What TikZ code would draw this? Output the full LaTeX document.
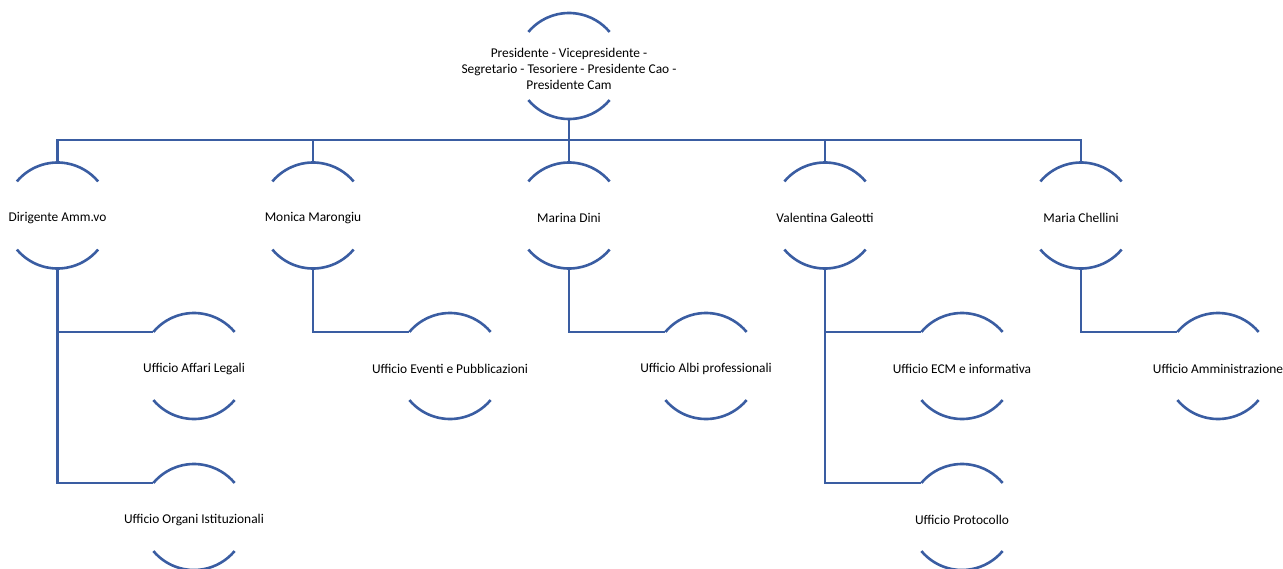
\documentclass[tikz,border=0pt]{standalone}
\usepackage{fontspec}
\setmainfont{Carlito}
\usetikzlibrary{positioning}
\definecolor{linea}{RGB}{58,93,162}
\tikzset{
	testo/.style={align=center,inner sep=0pt,yshift=-2.5pt,
		font=\fontsize{13.4}{16}\selectfont},
	ruolo/.style={circle,minimum size=106pt,inner sep=0pt,outer sep=0pt,
		label={[testo]center:{#1}}},
	filo/.style={draw=linea,line width=2.6pt},
}

\begin{document}
\begin{tikzpicture}[x=1pt,y=-1pt]
	\useasboundingbox (0,0) rectangle (1283,568);
	%% vertice
	\node[ruolo={Presidente - Vicepresidente -\\Segretario - Tesoriere - Presidente Cao -\\Presidente Cam}] (p0) at (569,66) {};
	%% secondo livello
	\node[ruolo={Dirigente Amm.vo}] (a1) at (57.5,215.5) {};
	\node[ruolo={Monica Marongiu}] (a2) at (313,215.5) {};
	\node[ruolo={Marina Dini}] (a3) at (569,215.5) {};
	\node[ruolo={Valentina Galeotti}] (a4) at (825,215.5) {};
	\node[ruolo={Maria Chellini}] (a5) at (1081,215.5) {};
	%% uffici
	\node[ruolo={Ufficio Affari Legali}] (b1) at (194,366) {};
	\node[ruolo={Ufficio Organi Istituzionali}] (b2) at (194,517) {};
	\node[ruolo={Ufficio Eventi e Pubblicazioni}] (b3) at (450,366) {};
	\node[ruolo={Ufficio Albi professionali}] (b4) at (706,366) {};
	\node[ruolo={Ufficio ECM e informativa}] (b5) at (962,366) {};
	\node[ruolo={Ufficio Protocollo}] (b6) at (962,517) {};
	\node[ruolo={Ufficio Amministrazione}] (b7) at (1218,366) {};
	% archi sopra e sotto
	\foreach \n in {p0,a1,a2,a3,a4,a5,b1,b2,b3,b4,b5,b6,b7}{
		\draw[filo] (\n.140) arc[start angle=140,end angle=40,radius=53pt];
		\draw[filo] (\n.220) arc[start angle=220,end angle=320,radius=53pt];
	}
	% collegamenti
	\coordinate (bar) at (569,140);
	\draw[filo] (p0.south) -- (bar);
	\draw[filo] (a1.north) |- (bar) -| (a5.north);
	\foreach \n in {a2,a3,a4}
		\draw[filo] (\n.north) -- (\n.north |- bar);
	\draw[filo] (a1.south) |- (b1.140);
	\draw[filo] (a1.south) |- (b2.140);
	\draw[filo] (a2.south) |- (b3.140);
	\draw[filo] (a3.south) |- (b4.140);
	\draw[filo] (a4.south) |- (b5.140);
	\draw[filo] (a4.south) |- (b6.140);
	\draw[filo] (a5.south) |- (b7.140);
\end{tikzpicture}
\end{document}
